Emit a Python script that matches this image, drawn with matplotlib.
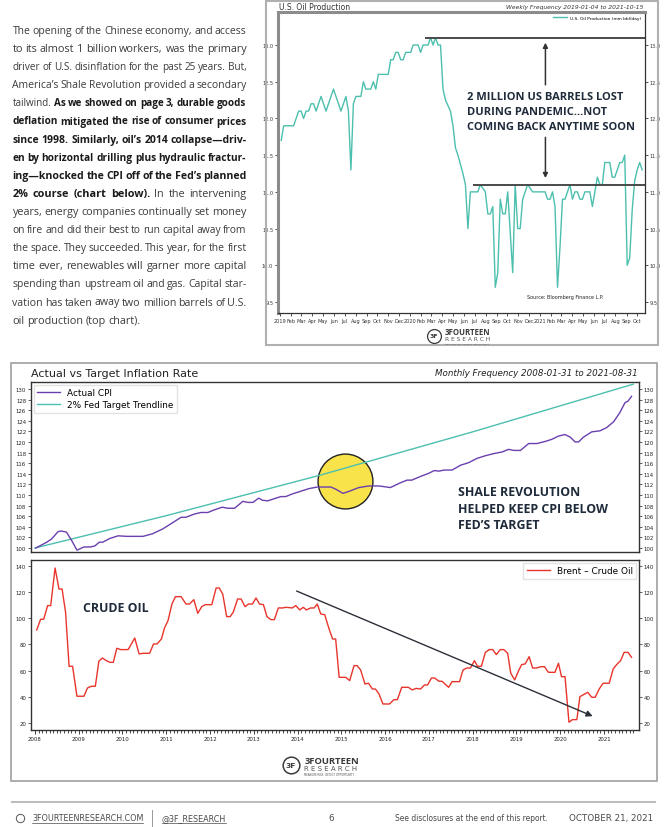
import numpy as np
import pandas as pd
import matplotlib
matplotlib.use('Agg')
import matplotlib.pyplot as plt
import matplotlib.dates as mdates
from matplotlib.lines import Line2D
from matplotlib.patches import Rectangle
from matplotlib.ticker import FuncFormatter, MultipleLocator

W, H = 667, 828

# U.S. oil production, weekly (week number after 2019-01-04, mm bbl/day) - turning points
oil_trace = [(0, 11.7), (1, 11.9), (5, 11.9), (7, 12.1), (8, 12.1), (9, 12.0), (10, 12.1), (11, 12.1),
             (12, 12.2), (13, 12.2), (14, 12.1), (16, 12.3), (18, 12.1), (21, 12.4), (24, 12.1), (26, 12.3),
             (27, 12.1), (28, 11.3), (29, 12.2), (30, 12.3), (32, 12.3), (33, 12.5), (34, 12.4), (36, 12.4),
             (37, 12.5), (38, 12.4), (39, 12.6), (43, 12.6), (44, 12.8), (45, 12.8), (46, 12.9), (47, 12.9),
             (48, 12.8), (49, 12.8), (50, 12.9), (52, 12.9), (53, 13.0), (55, 13.0), (56, 12.9), (57, 13.0),
             (59, 13.0), (60, 13.1), (61, 13.0), (62, 13.1), (63, 13.0), (64, 13.0), (65, 12.4), (66, 12.25),
             (68, 12.1), (69, 11.9), (70, 11.6), (71, 11.5), (73, 11.25), (74, 11.1), (75, 10.5), (76, 11.0),
             (79, 11.0), (80, 11.1), (82, 11.0), (83, 10.7), (84, 10.7), (85, 10.8), (86, 9.7), (87, 9.9),
             (88, 10.9), (89, 10.7), (90, 10.7), (91, 11.0), (93, 9.9), (94, 11.1), (95, 10.5), (96, 10.5),
             (97, 10.9), (98, 11.0), (99, 11.1), (101, 11.0), (106, 11.0), (107, 10.9), (108, 10.9), (109, 11.0),
             (110, 10.8), (111, 9.7), (112, 10.25), (113, 10.9), (114, 10.9), (116, 11.1), (117, 10.9), (118, 11.0),
             (119, 11.0), (120, 10.9), (121, 10.9), (122, 11.0), (124, 11.0), (125, 10.8), (127, 11.2), (128, 11.1),
             (129, 11.1), (130, 11.4), (132, 11.4), (133, 11.2), (134, 11.2), (136, 11.4), (137, 11.4), (138, 11.5),
             (139, 10.0), (140, 10.1), (141, 10.75), (142, 11.15), (143, 11.3), (144, 11.4), (145, 11.3)]
oil_weeks = [w for w, _ in oil_trace]
oil_prod = [v for _, v in oil_trace]
oil_pre_covid_level = 13.1
oil_now_level = 11.1

# CPI indexed to 100 (decimal year, index)
cpi_trace = [(2008.02, 100.0), (2008.27, 101.1), (2008.38, 101.7), (2008.53, 103.1), (2008.6, 103.2),
             (2008.72, 103.0), (2008.84, 101.4), (2008.96, 99.6), (2009.12, 100.2), (2009.27, 100.2),
             (2009.37, 100.4), (2009.47, 101.1), (2009.55, 101.1), (2009.71, 101.8), (2009.90, 102.3),
             (2010.09, 102.2), (2010.47, 102.2), (2010.69, 102.7), (2010.92, 103.6), (2011.15, 104.8),
             (2011.34, 105.8), (2011.45, 105.8), (2011.64, 106.4), (2011.79, 106.7), (2011.95, 106.7),
             (2012.10, 107.2), (2012.28, 107.7), (2012.40, 107.5), (2012.56, 107.5), (2012.75, 108.8),
             (2012.87, 108.6), (2012.98, 108.6), (2013.11, 109.4), (2013.20, 109.0), (2013.32, 108.9),
             (2013.47, 109.3), (2013.62, 109.7), (2013.73, 109.7), (2013.88, 110.2), (2014.07, 110.7),
             (2014.26, 111.2), (2014.45, 111.5), (2014.76, 111.5), (2014.87, 111.1), (2015.04, 110.3),
             (2015.18, 110.7), (2015.40, 111.4), (2015.63, 111.7), (2015.86, 111.7), (2016.12, 111.4),
             (2016.35, 112.3), (2016.50, 112.8), (2016.61, 112.8), (2016.81, 113.5), (2017.00, 114.1),
             (2017.12, 114.6), (2017.23, 114.5), (2017.35, 114.7), (2017.53, 114.7), (2017.72, 115.6),
             (2017.91, 116.1), (2018.10, 116.9), (2018.29, 117.4), (2018.48, 117.8), (2018.67, 118.1),
             (2018.82, 118.6), (2018.94, 118.4), (2019.09, 118.4), (2019.28, 119.7), (2019.47, 119.7),
             (2019.66, 120.1), (2019.81, 120.5), (2019.96, 121.1), (2020.11, 121.4), (2020.23, 120.9),
             (2020.34, 120.0), (2020.42, 120.0), (2020.53, 120.9), (2020.72, 121.9), (2020.91, 122.1),
             (2021.06, 122.7), (2021.22, 123.8), (2021.36, 125.5), (2021.48, 127.4), (2021.55, 127.7),
             (2021.63, 128.6)]
cpi_year = [d for d, _ in cpi_trace]
cpi_val = [v for _, v in cpi_trace]

trend_year = [2008.0, 2011.0, 2014.5, 2018.0, 2021.67]
trend_val = [100.0, 106.1, 113.7, 121.9, 130.9]

# Brent crude, USD/bbl
brent_trace = [(2008.04, 91.0), (2008.13, 99.2), (2008.20, 99.2), (2008.29, 109.6), (2008.36, 109.6),
               (2008.46, 138.2), (2008.55, 122.2), (2008.62, 122.2), (2008.70, 104.5), (2008.78, 63.4),
               (2008.86, 63.4), (2008.96, 40.6), (2009.12, 40.6), (2009.20, 46.9), (2009.29, 48.2),
               (2009.38, 48.2), (2009.46, 67.2), (2009.54, 69.7), (2009.63, 67.7), (2009.71, 66.4),
               (2009.79, 66.4), (2009.87, 77.1), (2009.96, 76.1), (2010.13, 76.1), (2010.28, 84.9),
               (2010.38, 72.8), (2010.47, 73.3), (2010.62, 73.3), (2010.71, 80.4), (2010.79, 80.4),
               (2010.89, 84.2), (2010.96, 92.6), (2011.04, 98.1), (2011.13, 110.8), (2011.21, 116.4),
               (2011.34, 116.4), (2011.45, 110.8), (2011.53, 110.8), (2011.63, 114.1), (2011.72, 103.7),
               (2011.81, 108.8), (2011.89, 110.3), (2012.04, 110.3), (2012.14, 123.0), (2012.21, 123.0),
               (2012.29, 118.4), (2012.38, 101.2), (2012.46, 101.2), (2012.53, 104.5), (2012.63, 114.6),
               (2012.71, 114.6), (2012.80, 108.8), (2012.88, 110.8), (2012.97, 110.8), (2013.05, 115.4),
               (2013.13, 110.8), (2013.22, 110.3), (2013.30, 101.2), (2013.39, 98.9), (2013.47, 98.9),
               (2013.56, 107.8), (2013.66, 107.8), (2013.73, 108.3), (2013.88, 107.8), (2013.96, 109.6),
               (2014.05, 106.3), (2014.13, 108.3), (2014.20, 106.3), (2014.30, 107.8), (2014.38, 107.8),
               (2014.45, 110.8), (2014.53, 103.2), (2014.62, 102.7), (2014.72, 91.8), (2014.80, 84.2),
               (2014.87, 84.2), (2014.95, 55.0), (2015.10, 55.0), (2015.19, 52.5), (2015.29, 63.9),
               (2015.36, 63.9), (2015.44, 60.6), (2015.54, 49.9), (2015.62, 50.5), (2015.71, 46.1),
               (2015.78, 46.1), (2015.86, 42.3), (2015.95, 34.7), (2016.10, 34.7), (2016.20, 38.0),
               (2016.28, 38.0), (2016.38, 47.4), (2016.53, 47.4), (2016.62, 45.4), (2016.71, 46.6),
               (2016.81, 46.1), (2016.90, 49.2), (2016.97, 49.2), (2017.06, 54.5), (2017.13, 54.5),
               (2017.23, 52.0), (2017.30, 52.0), (2017.45, 47.4), (2017.53, 51.7), (2017.70, 51.7),
               (2017.78, 60.6), (2017.87, 62.1), (2017.95, 62.1), (2018.04, 67.7), (2018.11, 63.4),
               (2018.20, 63.4), (2018.29, 74.0), (2018.38, 76.1), (2018.46, 76.1), (2018.54, 72.3),
               (2018.63, 76.1), (2018.71, 76.1), (2018.80, 73.3), (2018.87, 58.1), (2018.96, 53.0),
               (2019.05, 60.1), (2019.12, 64.7), (2019.20, 65.2), (2019.29, 70.7), (2019.37, 62.1),
               (2019.46, 62.1), (2019.56, 63.1), (2019.64, 63.1), (2019.73, 58.8), (2019.88, 58.8),
               (2019.96, 65.7), (2020.03, 55.5), (2020.11, 55.5), (2020.20, 20.8), (2020.28, 22.8),
               (2020.38, 22.8), (2020.45, 40.3), (2020.53, 41.8), (2020.63, 43.6), (2020.72, 39.8),
               (2020.80, 39.8), (2020.89, 46.1), (2020.98, 50.5), (2021.12, 50.5), (2021.21, 61.4),
               (2021.29, 64.7), (2021.38, 67.7), (2021.46, 74.0), (2021.55, 74.0), (2021.63, 70.2)]
brent_year = [d for d, _ in brent_trace]
brent_val = [v for _, v in brent_trace]
years = list(range(2008, 2022))

body_lines = [
    [("The opening of the Chinese economy, and access", 0)],
    [("to its almost 1 billion workers, was the primary", 0)],
    [("driver of U.S. disinflation for the past 25 years. But,", 0)],
    [("America\u2019s Shale Revolution provided a secondary", 0)],
    [("tailwind.", 0), ("As we showed on page 3, durable goods", 1)],
    [("deflation mitigated the rise of consumer prices", 1)],
    [("since 1998. Similarly, oil\u2019s 2014 collapse\u2014driv-", 1)],
    [("en by horizontal drilling plus hydraulic fractur-", 1)],
    [("ing\u2014knocked the CPI off of the Fed\u2019s planned", 1)],
    [("2% course (chart below).", 1), ("In the intervening", 0)],
    [("years, energy companies continually set money", 0)],
    [("on fire and did their best to run capital away from", 0)],
    [("the space. They succeeded. This year, for the first", 0)],
    [("time ever, renewables will garner more capital", 0)],
    [("spending than upstream oil and gas. Capital star-", 0)],
    [("vation has taken away two million barrels of U.S.", 0)],
    [("oil production (top chart).", 0)],
]

NAVY = '#1f2b3b'
TEAL = '#4cbfae'
PURPLE = '#6a3fae'
RED = '#e8352b'
BODY_FONT = 'Open Sans'
BODY_FS = 7.8


def fx(x):
    return x / W


def fy(y):
    return 1 - y / H


def px_axes(l, t, r, b):
    return fig.add_axes([fx(l), fy(b), (r - l) / W, (b - t) / H])


fig = plt.figure(figsize=(W / 100, H / 100), dpi=100)
fig.patch.set_facecolor('white')
fig.canvas.draw()
rend = fig.canvas.get_renderer()


def text_width(s, fs, bold=False, family=BODY_FONT):
    t = fig.text(0, 0, s, fontsize=fs, family=family, fontweight='bold' if bold else 'normal')
    w = t.get_window_extent(renderer=rend).width
    t.remove()
    return w


# ---------------- body text (justified) ----------------
x0, x1, y0, dy = 12.5, 246.5, 31.5, 18.1
min_gap = 2.2
for i, line in enumerate(body_lines):
    words = [(w, b) for chunk, b in line for w in chunk.split(' ')]
    fs = BODY_FS
    nat = sum(text_width(w, fs, b) for w, b in words)
    if nat + min_gap * (len(words) - 1) > x1 - x0:
        fs = fs * (x1 - x0 - min_gap * (len(words) - 1)) / nat
    arts = []
    for w, bold in words:
        t = fig.text(fx(x0), fy(y0 + i * dy), w, fontsize=fs, family=BODY_FONT,
                     fontweight='bold' if bold else 'normal',
                     color='#1a1a1a' if bold else '#3c3c3c', va='center', ha='left')
        arts.append((t, t.get_window_extent(renderer=rend).width))
    total = sum(wd for _, wd in arts)
    if i == len(body_lines) - 1:
        gap = 2.4
    else:
        gap = (x1 - x0 - total) / (len(arts) - 1)
    xx = x0
    for t, wd in arts:
        t.set_x(fx(xx))
        xx += wd + gap

# ---------------- top-right chart : U.S. oil production ----------------
fig.add_artist(Rectangle((fx(266), fy(346)), (658 - 266) / W, (346 - 2) / H, transform=fig.transFigure,
                         fill=False, edgecolor='#b0b0b0', lw=1.5))
axo = px_axes(278, 13, 645, 314)
start = pd.Timestamp('2019-01-04')
oil_dates = [start + pd.Timedelta(weeks=w) for w in oil_weeks]
axo.plot(oil_dates, oil_prod, color=TEAL, lw=1.0, label='U.S. Oil Production (mm bbl/day)')
axo.set_xlim(pd.Timestamp('2018-12-26'), pd.Timestamp('2021-10-23'))
axo.set_ylim(9.35, 13.45)
axo.yaxis.set_major_locator(MultipleLocator(0.5))
axo.yaxis.set_major_formatter(FuncFormatter(lambda v, p: '%.1f' % v))
axo.xaxis.set_major_locator(mdates.MonthLocator())
axo.xaxis.set_major_formatter(FuncFormatter(
    lambda v, p: str(mdates.num2date(v).year) if mdates.num2date(v).month == 1 else mdates.num2date(v).strftime('%b')))
axo.tick_params(axis='both', labelsize=3.6, length=2, width=0.6, colors='#333333', pad=1.5,
                right=True, labelright=True)
for s in ['left', 'top']:
    axo.spines[s].set_color('#8c8c8c')
    axo.spines[s].set_linewidth(2.2)
for s in ['right', 'bottom']:
    axo.spines[s].set_color('#333333')
    axo.spines[s].set_linewidth(0.9)
xr = axo.get_xlim()[1]
axo.hlines(oil_pre_covid_level, pd.Timestamp('2020-02-12'), xr, color='#4a4a4a', lw=1.4)
axo.hlines(oil_now_level, pd.Timestamp('2020-06-26'), xr, color='#4a4a4a', lw=1.4)
arr_d = pd.Timestamp('2021-01-16')
axo.annotate('', xy=(arr_d, oil_pre_covid_level - 0.03), xytext=(arr_d, 12.42),
             arrowprops=dict(arrowstyle='-|>', color='#333333', lw=1.1, mutation_scale=7))
axo.annotate('', xy=(arr_d, oil_now_level + 0.05), xytext=(arr_d, 11.78),
             arrowprops=dict(arrowstyle='-|>', color='#333333', lw=1.1, mutation_scale=7))
for k, s in enumerate(['2 MILLION US BARRELS LOST', 'DURING PANDEMIC...NOT', 'COMING BACK ANYTIME SOON']):
    fig.text(fx(467), fy(97 + k * 15.5), s, fontsize=8.0, fontweight='bold', family='Open Sans',
             color=NAVY, va='center', ha='left')
axo.text(0.678, 0.05, 'Source: Bloomberg Finance L.P.', transform=axo.transAxes, fontsize=3.5, color='#222222')
axo.legend(loc='upper right', fontsize=3.2, frameon=False, handlelength=3, borderaxespad=0.4)
fig.text(fx(279), fy(7), 'U.S. Oil Production', fontsize=5.5, color='#333333', va='center')
fig.text(fx(643), fy(7), 'Weekly Frequency 2019-01-04 to 2021-10-15', fontsize=4.3, style='italic',
         color='#333333', va='center', ha='right')


def logo(cx, cy, scale):
    fig.add_artist(Line2D([fx(cx)], [fy(cy)], marker='o', ms=10 * scale, mfc='none', mec='#3a3a3a',
                          mew=0.9 * scale, transform=fig.transFigure))
    fig.text(fx(cx), fy(cy), '3F', fontsize=4.5 * scale, fontweight='bold', color='#3a3a3a',
             ha='center', va='center')
    fig.text(fx(cx + 11 * scale), fy(cy - 4 * scale), '3FOURTEEN', fontsize=5.6 * scale, fontweight='bold',
             color='#3a3a3a', va='center', family='Open Sans')
    fig.text(fx(cx + 11 * scale), fy(cy + 2.6 * scale), 'R E S E A R C H', fontsize=4.2 * scale,
             color='#555555', va='center')
    fig.text(fx(cx + 11 * scale), fy(cy + 7.3 * scale), 'MEASURE RISK. DETECT OPPORTUNITY.', fontsize=1.6 * scale,
             color='#555555', va='center')


logo(434, 337, 1.0)

# ---------------- bottom chart : CPI vs target, Brent ----------------
fig.add_artist(Rectangle((fx(11), fy(782)), (657 - 11) / W, (782 - 364) / H, transform=fig.transFigure,
                         fill=False, edgecolor='#a0a0a0', lw=1.2))
fig.text(fx(31), fy(374), 'Actual vs Target Inflation Rate', fontsize=8.0, color='#222222', va='center')
fig.text(fx(638), fy(374), 'Monthly Frequency 2008-01-31 to 2021-08-31', fontsize=6.3, style='italic',
         color='#222222', va='center', ha='right')

xlo, xhi = 2007.91, 2021.8
axc = px_axes(31, 383, 639, 553)
axc.plot(trend_year, trend_val, color=TEAL, lw=1.0, label='2% Fed Target Trendline', zorder=3)
axc.plot(cpi_year, cpi_val, color=PURPLE, lw=1.0, label='Actual CPI', zorder=4)
axc.plot([2015.08], [112.7], 'o', ms=39.5, mfc='#f8e34b', mec='#222222', mew=1.0, zorder=2)
axc.set_xlim(xlo, xhi)
axc.set_ylim(99.25, 131.3)
axc.set_yticks(np.arange(100, 131, 2))
axc.set_xticks([])
axc.tick_params(axis='y', labelsize=3.9, length=2, width=0.5, right=True, labelright=True, pad=1.5,
                colors='#222222')
for s in axc.spines.values():
    s.set_color('#333333')
    s.set_linewidth(1.0)
h, l = axc.get_legend_handles_labels()
axc.legend(h[::-1], l[::-1], loc='upper left', fontsize=6.4, frameon=True, fancybox=False,
           edgecolor='#dddddd', borderaxespad=0.3, handlelength=2.6, labelspacing=0.35)
for k, s in enumerate(['SHALE REVOLUTION', 'HELPED KEEP CPI BELOW', 'FED\u2019S TARGET']):
    fig.text(fx(458), fy(493 + k * 16.3), s, fontsize=8.9, fontweight='bold', family='Open Sans',
             color=NAVY, va='center', ha='left')

axb = px_axes(31, 561, 639, 731)
axb.plot(brent_year, brent_val, color=RED, lw=1.0, label='Brent \u2013 Crude Oil')
axb.set_xlim(xlo, xhi)
axb.set_ylim(14.9, 144.3)
axb.set_yticks(range(20, 141, 20))
axb.set_xticks(years)
axb.set_xticks(np.arange(2008, 2021.75, 1 / 12), minor=True)
axb.tick_params(axis='y', labelsize=3.9, length=2, width=0.5, right=True, labelright=True, pad=1.5,
                colors='#222222')
axb.tick_params(axis='x', which='major', labelsize=3.9, length=3, width=0.6, pad=1.5, colors='#222222')
axb.tick_params(axis='x', which='minor', length=1.8, width=0.5)
for s in axb.spines.values():
    s.set_color('#333333')
    s.set_linewidth(1.0)
axb.legend(loc='upper right', fontsize=6.4, frameon=True, fancybox=False, edgecolor='#dddddd',
           borderaxespad=0.3, handlelength=2.6)
axb.annotate('', xy=(2020.8, 24.6), xytext=(2013.92, 121.5),
             arrowprops=dict(arrowstyle='-|>', color='#2b2f38', lw=1.0, mutation_scale=9))
fig.text(fx(83), fy(608), 'CRUDE OIL', fontsize=8.9, fontweight='bold', family='Open Sans',
         color=NAVY, va='center', ha='left')

logo(291, 766, 1.2)

# ---------------- footer ----------------
fig.add_artist(Line2D([fx(12), fx(655)], [fy(803), fy(803)], color='#bdbdbd', lw=1.5,
                      transform=fig.transFigure))
fy_txt = 819
fig.add_artist(Line2D([fx(20)], [fy(fy_txt)], marker='o', ms=6, mfc='none', mec='#555555', mew=0.7,
                      transform=fig.transFigure))
# (left x, text, underline, alignment, target width px)
foot = [(32, '3FOURTEENRESEARCH.COM', True, 'left', 113), (162, '@3F_RESEARCH', True, 'left', 65),
        (331, '6', False, 'center', 0), (395, 'See disclosures at the end of this report.', False, 'left', 153),
        (653, 'OCTOBER 21, 2021', False, 'right', 84)]
for xp, txt, ul, ha, tw in foot:
    fs = 6.3
    if tw:
        fs = min(6.3, 6.3 * tw / text_width(txt, 6.3, family='DejaVu Sans'))
    t = fig.text(fx(xp), fy(fy_txt), txt, fontsize=fs, family='DejaVu Sans', color='#4a4a4a',
                 va='center', ha=ha)
    if ul:
        wd = t.get_window_extent(renderer=rend).width
        fig.add_artist(Line2D([fx(xp), fx(xp + wd)], [fy(fy_txt + 5), fy(fy_txt + 5)], color='#4a4a4a',
                              lw=0.5, transform=fig.transFigure))
fig.add_artist(Line2D([fx(152), fx(152)], [fy(811), fy(827)], color='#999999', lw=0.7,
                      transform=fig.transFigure))

fig.savefig('out.png', dpi=100)
